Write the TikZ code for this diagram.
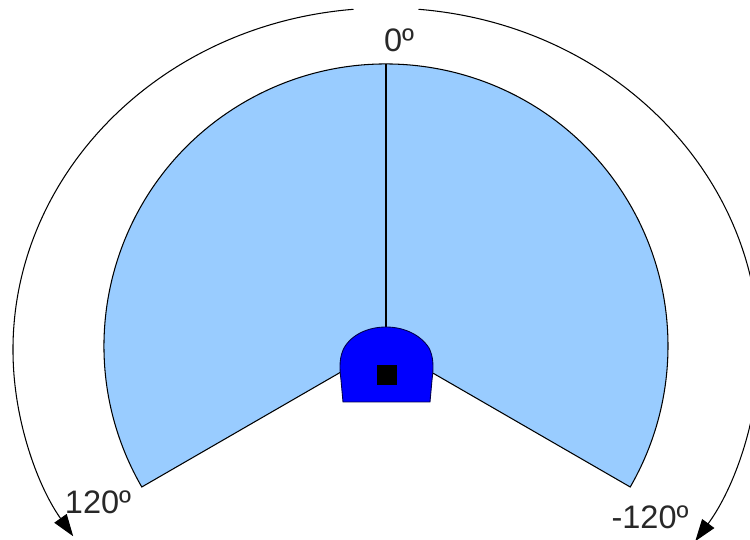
\documentclass[tikz,border=0pt]{standalone}
\usepackage{fontspec}
\setmainfont{Liberation Sans}
\usepackage{tikz}
\usetikzlibrary{arrows.meta,calc}
\definecolor{campo}{RGB}{153,204,255}
\definecolor{robot}{RGB}{0,0,255}
\definecolor{texto}{RGB}{40,40,40}
\tikzset{
  sector/.style={
    draw=black,
    fill=campo,
    line width=.6pt
  },
  giro/.style={
    -{Triangle[length=.44cm,width=.3cm]},
    line width=.6pt,
    black
  },
  eje/.style={
    line width=1.6pt,
    black
  },
  cuerpo/.style={
    draw=black!70!robot,
    fill=robot,
    line width=.5pt
  },
  etiqueta/.style={
    inner sep=0pt,
    text=texto,
    font=\fontsize{18.5}{20}\selectfont
  }
}

\begin{document}
\begin{tikzpicture}[x=.02cm,y=.02cm]
\useasboundingbox (0,0) rectangle (750,540);
\coordinate (c) at (386,194);
\coordinate (o) at (386,190);
% field of view
\draw[sector] (c) -- ($(c)+(210:282)$) arc[start angle=210, end angle=-30, radius=282] -- cycle;
\draw[eje] (386,476) -- (c);
% rotation limits
\draw[giro] ($(o)+(95:373 and 342)$) arc[start angle=95, end angle=213, x radius=373, y radius=342];
\draw[giro] ($(o)+(85:373 and 342)$) arc[start angle=85, end angle=-34, x radius=373, y radius=342];
% robot
\draw[cuerpo] (343,138) -- (341,160) .. controls (339,175) and (340,184) .. (344,192)
  .. controls (352,206) and (369,213) .. (386,213)
  .. controls (403,213) and (420,206) .. (429,192)
  .. controls (433,184) and (434,175) .. (432,160) -- (430,138) -- cycle;
\fill[black] (377,155) rectangle (397,175);
% labels
\node[etiqueta] (cero) at (399,500) {0º};
\node[etiqueta] (izq) at (98,38) {120º};
\node[etiqueta] (der) at (650,23) {-120º};
\end{tikzpicture}
\end{document}
